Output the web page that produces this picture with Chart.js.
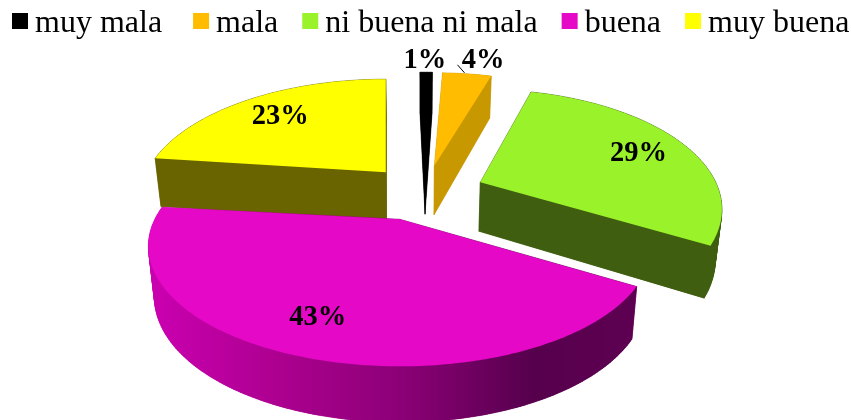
<!DOCTYPE html>
<html>
<head>
<meta charset="utf-8">
<style>html,body{margin:0;padding:0;background:#fff}canvas{display:block}</style>
<script src="https://cdn.jsdelivr.net/npm/chart.js@4/dist/chart.umd.min.js"></script>
</head>
<body>
<canvas id="c" width="851" height="420"></canvas>
<script>
const categories = ['muy mala', 'mala', 'ni buena ni mala', 'buena', 'muy buena'];
const values = [1, 4, 29, 43, 23];
const topColors = ['#000000', '#FFBC00', '#9AF32A', '#E508C6', '#FFFF00'];
const wallColors = ['#000000', '#C89800', '#3F5E10', null, '#696400'];
const magentaWallStops = [[0, '#C800AE'], [0.25, '#AC008F'], [0.5, '#8C0077'], [0.78, '#56004C'], [1, '#5E0052']];
const explode = [52, 58, 63, 64, 51];
const labelRadius = [1.2, 1.2, 0.72, 0.72, 0.72];
const drawOrder = [4, 0, 1, 2, 3];
const legendGaps = [31, 24, 24, 24, 0];
// perspective tweaks per slice (view skew of the original 3D render)
const viewTurnDeg = [-1.5, -1.2, -2.8, -1, 0];
const viewWiden = [1, 1, 0.985, 1.025, 1];
const tipNudge = [[3.5, 0], [3.5, 3], [1, 2.5], [1.5, 0.5], [-0.5, 0.5]];
const labelNudge = [[-1.5, 2], [11, 0], [11, 0], [-15, 6], [-4, -2]];

const K = 0.477, P = 0.225, DEPTH = 49, SHRINK = 0.978;
const SERIF = '"Liberation Serif", "Times New Roman", serif';

function geom(el, i) {
  const g = el.getProps(['x', 'y', 'startAngle', 'endAngle', 'outerRadius'], true);
  const off = el.options.offset || 0;
  const mid = (g.startAngle + g.endAngle) / 2;
  const tipX = g.x + Math.cos(mid) * off + tipNudge[i][0];
  const tipY = g.y + K * Math.sin(mid) * off + tipNudge[i][1];
  const R = g.outerRadius;
  const turn = viewTurnDeg[i] * Math.PI / 180;
  const widen = viewWiden[i];
  const project = (a, r) => {
    const X = Math.cos(a + turn) * r, Y = Math.sin(a + turn) * r;
    const s = 1 / (1 - P * Y / R);
    return {x: tipX + X * s * widen, y: tipY + K * Y * s, yn: Y / R};
  };
  return {...g, mid, tipX, tipY, R, project};
}

const pie3d = {
  id: 'pie3d',
  beforeDatasetDraw(chart, args) {
    const ctx = chart.ctx;
    const meta = chart.getDatasetMeta(args.index);
    const drop = (pt, cx) => ({
      x: cx + (pt.x - cx) * SHRINK,
      y: pt.y + DEPTH + 7 * pt.yn
    });
    ctx.save();
    drawOrder.forEach(i => {
      const el = meta.data[i];
      const g = geom(el, i);
      const n = Math.max(4, Math.ceil((g.endAngle - g.startAngle) * 60));
      const rim = [];
      for (let j = 0; j <= n; j++) {
        rim.push(g.project(g.startAngle + (g.endAngle - g.startAngle) * j / n, g.R));
      }
      const tip = {x: g.tipX, y: g.tipY, yn: 0};
      const poly = [tip, ...rim];
      const low = poly.map(p => drop(p, g.x));
      let wall = wallColors[i];
      if (!wall) {
        wall = ctx.createLinearGradient(g.tipX - g.R, 0, g.tipX + g.R, 0);
        magentaWallStops.forEach(s => wall.addColorStop(s[0], s[1]));
      }
      ctx.fillStyle = wall;
      ctx.strokeStyle = wall;
      ctx.lineWidth = 0.5;
      const face = (a, b) => {
        ctx.beginPath();
        ctx.moveTo(a.x, a.y);
        ctx.lineTo(b.x, b.y);
        ctx.lineTo(drop(b, g.x).x, drop(b, g.x).y);
        ctx.lineTo(drop(a, g.x).x, drop(a, g.x).y);
        ctx.closePath();
        ctx.fill();
        ctx.stroke();
      };
      face(tip, rim[0]);
      face(tip, rim[n]);
      for (let j = 0; j < n; j++) face(rim[j], rim[j + 1]);
      ctx.beginPath();
      low.forEach((p, j) => j ? ctx.lineTo(p.x, p.y) : ctx.moveTo(p.x, p.y));
      ctx.closePath();
      ctx.fill();
      ctx.fillStyle = el.options.backgroundColor;
      ctx.beginPath();
      poly.forEach((p, j) => j ? ctx.lineTo(p.x, p.y) : ctx.moveTo(p.x, p.y));
      ctx.closePath();
      ctx.fill();
    });
    // value labels
    ctx.fillStyle = '#000';
    ctx.font = 'bold 28.5px ' + SERIF;
    ctx.textAlign = 'center';
    ctx.textBaseline = 'middle';
    meta.data.forEach((el, i) => {
      const g = geom(el, i);
      const p = g.project(g.mid, g.R * labelRadius[i]);
      ctx.fillText(values[i] + '%', p.x + labelNudge[i][0], p.y + 1 + labelNudge[i][1]);
      if (labelRadius[i] > 1 && values[i] > 1) {
        const rimPt = g.project(g.mid, g.R);
        ctx.strokeStyle = '#000';
        ctx.lineWidth = 1;
        ctx.beginPath();
        ctx.moveTo(rimPt.x - 9.5, rimPt.y - 9);
        ctx.lineTo(rimPt.x - 2.5, rimPt.y - 1);
        ctx.stroke();
      }
    });
    ctx.restore();
    return false;
  },
  afterDraw(chart) {
    const ctx = chart.ctx;
    ctx.save();
    ctx.font = '32px ' + SERIF;
    ctx.textAlign = 'left';
    ctx.textBaseline = 'alphabetic';
    let x = 12;
    categories.forEach((label, i) => {
      ctx.fillStyle = topColors[i];
      ctx.fillRect(x, 13, 16, 16);
      ctx.fillStyle = '#000';
      ctx.fillText(label, x + 23, 32);
      x += 23 + ctx.measureText(label).width + legendGaps[i];
    });
    ctx.restore();
  }
};

new Chart(document.getElementById('c'), {
  type: 'pie',
  data: {
    labels: categories,
    datasets: [{
      data: values,
      backgroundColor: topColors,
      offset: explode,
      borderWidth: 0,
      radius: 239
    }]
  },
  options: {
    responsive: false,
    animation: false,
    layout: {padding: {top: 46, bottom: 86, right: 11, left: 0}},
    plugins: {legend: {display: false}, tooltip: {enabled: false}}
  },
  plugins: [pie3d]
});
</script>
</body>
</html>
